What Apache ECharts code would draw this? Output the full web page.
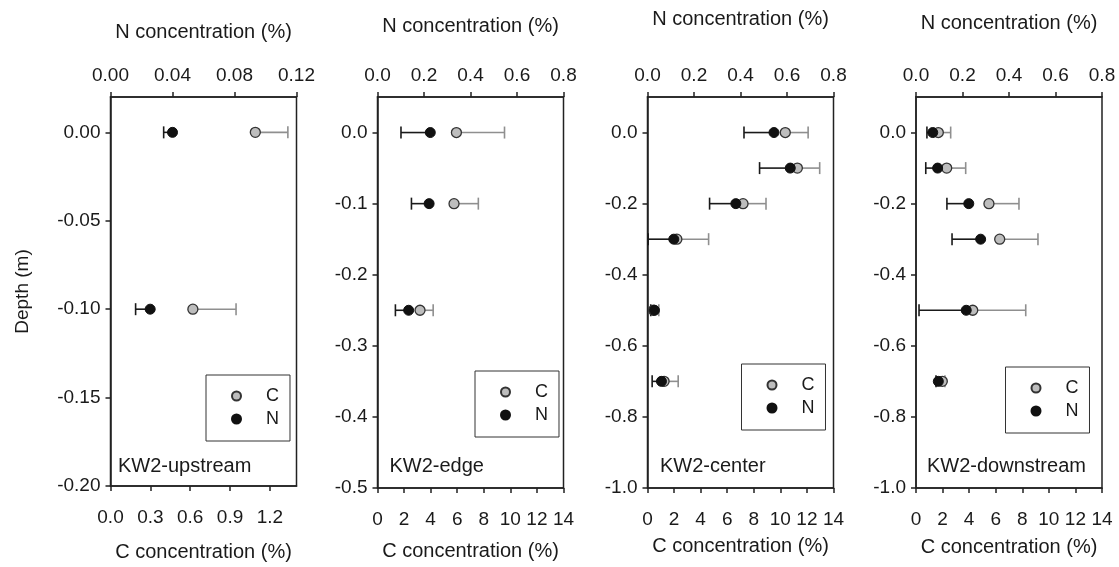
<!DOCTYPE html>
<html>
<head>
<meta charset="utf-8">
<script src="https://cdn.jsdelivr.net/npm/echarts@6/dist/echarts.min.js"></script>
<style>
  html, body { margin: 0; padding: 0; background: #fff; }
  #chart { width: 1119px; height: 567px; }
</style>
</head>
<body>
<div id="chart"></div>
<script>
// depth of each sampled layer (m)
const depthUp = [0, -0.1];
const depthEdge = [0, -0.1, -0.25];
const depthCenter = [0, -0.1, -0.2, -0.3, -0.5, -0.7];
const depthDown = [0, -0.1, -0.2, -0.3, -0.5, -0.7];

// C concentration (%) and its error (drawn to the right)
const cUp = [1.09, 0.62];
const cSdUp = [0.245, 0.325];
const cEdge = [5.94, 5.76, 3.2];
const cSdEdge = [3.62, 1.83, 0.99];
const cCenter = [10.37, 11.28, 7.19, 2.21, 0.45, 1.25];
const cSdCenter = [1.72, 1.68, 1.73, 2.39, 0.4, 1.06];
const cDown = [1.68, 2.31, 5.49, 6.3, 4.27, 1.98];
const cSdDown = [0.93, 1.43, 2.26, 2.88, 3.99, 0.2];

// N concentration (%) and its error (drawn to the left)
const nUp = [0.04, 0.0256];
const nSdUp = [0.0057, 0.0094];
const nEdge = [0.227, 0.222, 0.134];
const nSdEdge = [0.126, 0.076, 0.057];
const nCenter = [0.544, 0.614, 0.38, 0.113, 0.03, 0.06];
const nSdCenter = [0.129, 0.132, 0.113, 0.11, 0.016, 0.04];
const nDown = [0.072, 0.093, 0.227, 0.278, 0.216, 0.096];
const nSdDown = [0.025, 0.051, 0.094, 0.123, 0.203, 0.01];

// tick values
const cTicksUp = [0, 0.3, 0.6, 0.9, 1.2];
const nTicksUp = [0, 0.04, 0.08, 0.12];
const depthTicksUp = [-0.2, -0.15, -0.1, -0.05, 0];
const cTicks = [0, 2, 4, 6, 8, 10, 12, 14];
const nTicks = [0, 0.2, 0.4, 0.6, 0.8];
const depthTicksEdge = [-0.5, -0.4, -0.3, -0.2, -0.1, 0];
const depthTicksDeep = [-1, -0.8, -0.6, -0.4, -0.2, 0];

const siteNames = ["KW2-upstream", "KW2-edge", "KW2-center", "KW2-downstream"];

const panels = [
  { depth: depthUp, c: cUp, cSd: cSdUp, n: nUp, nSd: nSdUp,
    cMax: 1.4, cTicks: cTicksUp, cDec: 1, nMax: 0.12, nTicks: nTicksUp, nDec: 2,
    yMin: -0.2, yMax: 0.02, yTicks: depthTicksUp, yDec: 2,
    left: 110.5, labelLeft: 118, legendLeft: 206, legendTop: 375, nGap: 55, cGap: 56 },
  { depth: depthEdge, c: cEdge, cSd: cSdEdge, n: nEdge, nSd: nSdEdge,
    cMax: 14, cTicks: cTicks, cDec: 0, nMax: 0.8, nTicks: nTicks, nDec: 1,
    yMin: -0.5, yMax: 0.05, yTicks: depthTicksEdge, yDec: 1,
    left: 377.5, labelLeft: 389.5, legendLeft: 475, legendTop: 371, nGap: 61, cGap: 53 },
  { depth: depthCenter, c: cCenter, cSd: cSdCenter, n: nCenter, nSd: nSdCenter,
    cMax: 14, cTicks: cTicks, cDec: 0, nMax: 0.8, nTicks: nTicks, nDec: 1,
    yMin: -1, yMax: 0.1, yTicks: depthTicksDeep, yDec: 1,
    left: 647.5, labelLeft: 660, legendLeft: 741.5, legendTop: 364, nGap: 68, cGap: 48 },
  { depth: depthDown, c: cDown, cSd: cSdDown, n: nDown, nSd: nSdDown,
    cMax: 14, cTicks: cTicks, cDec: 0, nMax: 0.8, nTicks: nTicks, nDec: 1,
    yMin: -1, yMax: 0.1, yTicks: depthTicksDeep, yDec: 1,
    left: 916, labelLeft: 927, legendLeft: 1005.5, legendTop: 367, nGap: 64, cGap: 49 }
];

const FONT = "Liberation Sans, Arial, sans-serif";
const INK = "#1a1a1a";
const axisLineStyle = { color: "#222", width: 1.5 };

// horizontal error bar with an end cap, one side only
function errBar(color) {
  return function (params, api) {
    const a = api.coord([api.value(0), api.value(1)]);
    const b = api.coord([api.value(2), api.value(1)]);
    const h = 6;
    return {
      type: "group",
      children: [
        { type: "line", shape: { x1: a[0], y1: a[1], x2: b[0], y2: b[1] },
          style: { stroke: color, lineWidth: 1.6 } },
        { type: "line", shape: { x1: b[0], y1: b[1] - h, x2: b[0], y2: b[1] + h },
          style: { stroke: color, lineWidth: 1.6 } }
      ]
    };
  };
}

const grid = [], xAxis = [], yAxis = [], series = [], legend = [], title = [];

panels.forEach((p, i) => {
  grid.push({ left: p.left, top: 97, width: 186, height: 391,
    show: true, borderColor: "#222", borderWidth: 1.5, backgroundColor: "transparent" });

  // bottom: C axis
  xAxis.push({
    type: "value", gridIndex: i, position: "bottom", min: 0, max: p.cMax,
    axisLine: { onZero: false, lineStyle: axisLineStyle },
    axisTick: { length: 5, lineStyle: axisLineStyle, customValues: p.cTicks },
    axisLabel: { customValues: p.cTicks, formatter: (v) => v.toFixed(p.cDec),
      color: INK, fontSize: 19, margin: 22 },
    splitLine: { show: false },
    name: "C concentration (%)", nameLocation: "middle", nameGap: p.cGap,
    nameTextStyle: { fontSize: 20, color: INK }
  });
  // top: N axis
  xAxis.push({
    type: "value", gridIndex: i, position: "top", min: 0, max: p.nMax,
    axisLine: { onZero: false, lineStyle: axisLineStyle },
    axisTick: { length: 5, lineStyle: axisLineStyle, customValues: p.nTicks },
    axisLabel: { customValues: p.nTicks, formatter: (v) => v.toFixed(p.nDec),
      color: INK, fontSize: 19, margin: 12 },
    splitLine: { show: false },
    name: "N concentration (%)", nameLocation: "middle", nameGap: p.nGap,
    nameTextStyle: { fontSize: 20, color: INK }
  });
  yAxis.push({
    type: "value", gridIndex: i, min: p.yMin, max: p.yMax,
    axisLine: { onZero: false, lineStyle: axisLineStyle },
    axisTick: { length: 5, lineStyle: axisLineStyle, customValues: p.yTicks },
    axisLabel: { customValues: p.yTicks, formatter: (v) => v.toFixed(p.yDec),
      color: INK, fontSize: 19, margin: 10 },
    splitLine: { show: false },
    name: i === 0 ? "Depth (m)" : "", nameLocation: "middle", nameGap: 78, nameRotate: 90,
    nameTextStyle: { fontSize: 19, color: INK }
  });

  const cErr = p.depth.map((d, k) => [p.c[k], d, p.c[k] + p.cSd[k]]);
  const nErr = p.depth.map((d, k) => [p.n[k], d, p.n[k] - p.nSd[k]]);

  series.push({
    type: "custom", name: "C error", xAxisIndex: 2 * i, yAxisIndex: i,
    data: cErr, renderItem: errBar("#8f8f8f"), z: 2, silent: true
  });
  series.push({
    type: "custom", name: "N error", xAxisIndex: 2 * i + 1, yAxisIndex: i,
    data: nErr, renderItem: errBar("#1a1a1a"), z: 2, silent: true
  });
  series.push({
    type: "scatter", name: "C", xAxisIndex: 2 * i, yAxisIndex: i,
    data: p.depth.map((d, k) => [p.c[k], d]),
    symbolSize: 10, z: 3,
    itemStyle: { color: "#bdbdbd", borderColor: "#333", borderWidth: 1.3, opacity: 1 }
  });
  series.push({
    type: "scatter", name: "N", xAxisIndex: 2 * i + 1, yAxisIndex: i,
    data: p.depth.map((d, k) => [p.n[k], d]),
    symbolSize: 10, z: 4,
    itemStyle: { color: "#111", borderColor: "#111", borderWidth: 1, opacity: 1 }
  });

  legend.push({
    orient: "vertical", left: p.legendLeft, top: p.legendTop,
    data: ["C", "N"], icon: "circle", itemWidth: 9, itemHeight: 9, itemGap: 5,
    padding: [12, 11, 13, 25], borderColor: "#333", borderWidth: 1,
    selectedMode: false,
    textStyle: { fontSize: 18, color: INK, lineHeight: 18, padding: [0, 0, 0, 20] }
  });

  title.push({
    text: siteNames[i], left: p.labelLeft, top: 455, padding: 0,
    textStyle: { fontSize: 20, fontWeight: "normal", color: INK, lineHeight: 22 }
  });
});

const chart = echarts.init(document.getElementById("chart"), null, { renderer: "canvas" });
chart.setOption({
  animation: false,
  backgroundColor: "#fff",
  textStyle: { fontFamily: FONT },
  title, grid, xAxis, yAxis, legend, series
});
</script>
</body>
</html>
